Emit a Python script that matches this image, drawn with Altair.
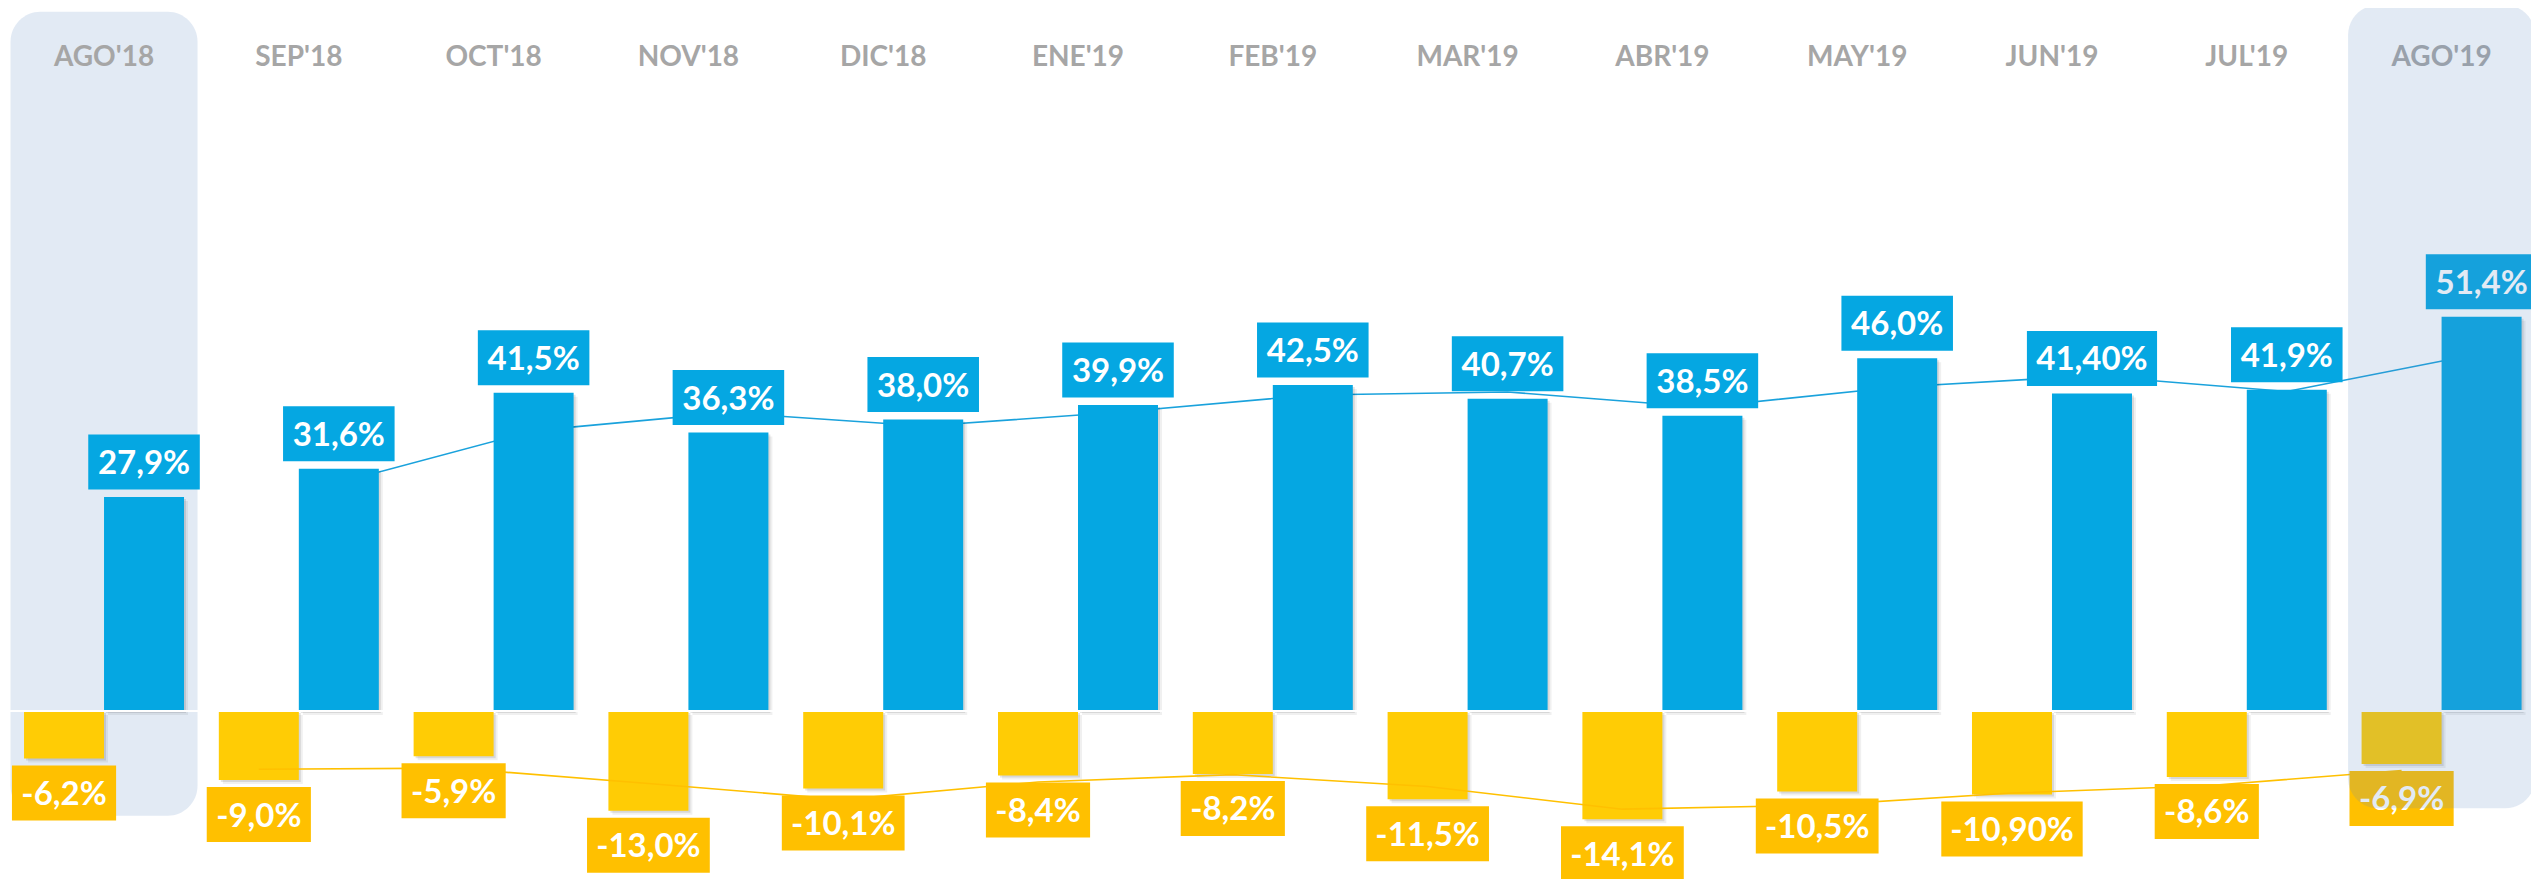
import altair as alt
import pandas as pd

# ---------------- data ----------------
months = ["AGO'18", "SEP'18", "OCT'18", "NOV'18", "DIC'18", "ENE'19", "FEB'19",
          "MAR'19", "ABR'19", "MAY'19", "JUN'19", "JUL'19", "AGO'19"]
blue_vals = [27.9, 31.6, 41.5, 36.3, 38.0, 39.9, 42.5, 40.7, 38.5, 46.0, 41.40, 41.9, 51.4]
yellow_vals = [-6.2, -9.0, -5.9, -13.0, -10.1, -8.4, -8.2, -11.5, -14.1, -10.5, -10.90, -8.6, -6.9]
blue_labels = ["27,9%", "31,6%", "41,5%", "36,3%", "38,0%", "39,9%", "42,5%",
               "40,7%", "38,5%", "46,0%", "41,40%", "41,9%", "51,4%"]
yellow_labels = ["-6,2%", "-9,0%", "-5,9%", "-13,0%", "-10,1%", "-8,4%", "-8,2%",
                 "-11,5%", "-14,1%", "-10,5%", "-10,90%", "-8,6%", "-6,9%"]
highlight_back = ["AGO'18"]
highlight_front = ["AGO'19"]

# ---------------- styling ----------------
BLUE = "#05A7E2"
YELLOW = "#FFCC05"
YELLOW_LBL = "#FFC000"
GREY = "#A6A6A6"
HL = "#5E8AC2"
FONT = "Lato, 'Open Sans', sans-serif"
W, H = 2523, 871

# label box width from text (approx. glyph advance widths, em units)
CW = {",": 0.258, "%": 0.729, "-": 0.306}


def box_w(s):
    return 19.5 + 36.7 * sum(CW.get(c, 0.507) for c in s)


df_blue = pd.DataFrame({
    "month": months, "idx": list(range(len(months))), "val": blue_vals,
    "label": blue_labels, "boxw": [box_w(s) for s in blue_labels]})
df_yel = pd.DataFrame({
    "month": months, "idx": list(range(len(months))), "val": yellow_vals,
    "label": yellow_labels, "boxw": [box_w(s) for s in yellow_labels]})
df_months = pd.DataFrame({"month": months})

xs = alt.Scale(domain=months, paddingInner=0.1, paddingOuter=0.026, align=0.826)
X = alt.X("month:N", scale=xs, axis=None)
ys = alt.Scale(domain=[-21.904, 91.656], nice=False, zero=False)
Y = alt.Y("val:Q", scale=ys, axis=None)
Y2 = alt.Y2("base:Q")

# highlight behind (AGO'18)
hl_back = alt.Chart(pd.DataFrame({"month": highlight_back})).mark_bar(
    width=187, cornerRadius=30, color=HL, opacity=0.18
).encode(x=X, y=alt.value(3.7), y2=alt.value(807.7))

# moving-average (2 periods) trend lines
blue_line = alt.Chart(df_blue).transform_window(
    ma="mean(val)", frame=[-1, 0], sort=[alt.SortField("idx")]
).transform_filter("datum.idx > 0").mark_line(
    color="#1AA2DC", strokeWidth=1.6, xOffset=40
).encode(x=X, y=alt.Y("ma:Q", scale=ys, axis=None), order="idx:Q")

yel_line = alt.Chart(df_yel).transform_window(
    ma="mean(val)", frame=[-1, 0], sort=[alt.SortField("idx")]
).transform_filter("datum.idx > 0").mark_line(
    color=YELLOW_LBL, strokeWidth=1.6, xOffset=-40
).encode(x=X, y=alt.Y("ma:Q", scale=ys, axis=None), order="idx:Q")


def shadow(df, xo, d, op):
    return alt.Chart(df).transform_calculate(base="0").mark_bar(
        width=80, xOffset=xo + d, yOffset=d, y2Offset=d, color="#000000", opacity=op
    ).encode(x=X, y=Y, y2=Y2)


shadows = [shadow(df_blue, 40, 2, 0.10), shadow(df_blue, 40, 4, 0.06),
           shadow(df_yel, -40, 2, 0.10), shadow(df_yel, -40, 4, 0.06)]

blue_bars = alt.Chart(df_blue).transform_calculate(base="0").mark_bar(
    width=80, xOffset=40, color=BLUE).encode(x=X, y=Y, y2=Y2)
yel_bars = alt.Chart(df_yel).transform_calculate(base="0").mark_bar(
    width=80, xOffset=-40, color=YELLOW).encode(x=X, y=Y, y2=Y2)

zero_rule = alt.Chart(df_months).transform_calculate(base="0").mark_rule(
    color="white", strokeWidth=2).encode(y=alt.Y("base:Q", scale=ys, axis=None))

# label boxes
blue_box = alt.Chart(df_blue).mark_bar(
    xOffset=40, yOffset=-7.5, y2Offset=-62.5, color=BLUE
).encode(x=X, y=Y, y2=alt.Y2("val:Q"), size=alt.Size("boxw:Q", scale=None, legend=None))
yel_box = alt.Chart(df_yel).mark_bar(
    xOffset=-40, yOffset=7, y2Offset=62, color=YELLOW_LBL
).encode(x=X, y=Y, y2=alt.Y2("val:Q"), size=alt.Size("boxw:Q", scale=None, legend=None))

blue_txt = alt.Chart(df_blue).mark_text(
    xOffset=40, dy=-23, baseline="alphabetic", align="center",
    font=FONT, fontWeight="bold", fontSize=33, color="white"
).encode(x=X, y=Y, text="label:N")
yel_txt = alt.Chart(df_yel).mark_text(
    xOffset=-40, dy=46.5, baseline="alphabetic", align="center",
    font=FONT, fontWeight="bold", fontSize=33, color="white"
).encode(x=X, y=Y, text="label:N")

month_txt = alt.Chart(df_months).mark_text(
    baseline="alphabetic", align="center", font=FONT, fontWeight="bold",
    fontSize=28, color=GREY
).encode(x=X, y=alt.value(57.7), text="month:N")

hl_front = alt.Chart(pd.DataFrame({"month": highlight_front})).mark_bar(
    width=187, cornerRadius=30, color=HL, opacity=0.18
).encode(x=X, y=alt.value(-3), y2=alt.value(800.3))

chart = alt.layer(
    hl_back, blue_line, *shadows, blue_bars, yel_bars, zero_rule, yel_line,
    blue_box, yel_box, blue_txt, yel_txt, month_txt, hl_front
).properties(
    width=W, height=H, autosize=alt.AutoSizeParams(type="none"), padding=0
).configure_view(stroke=None)

chart.save("out.html", embed_options={"renderer": "svg", "actions": False})
